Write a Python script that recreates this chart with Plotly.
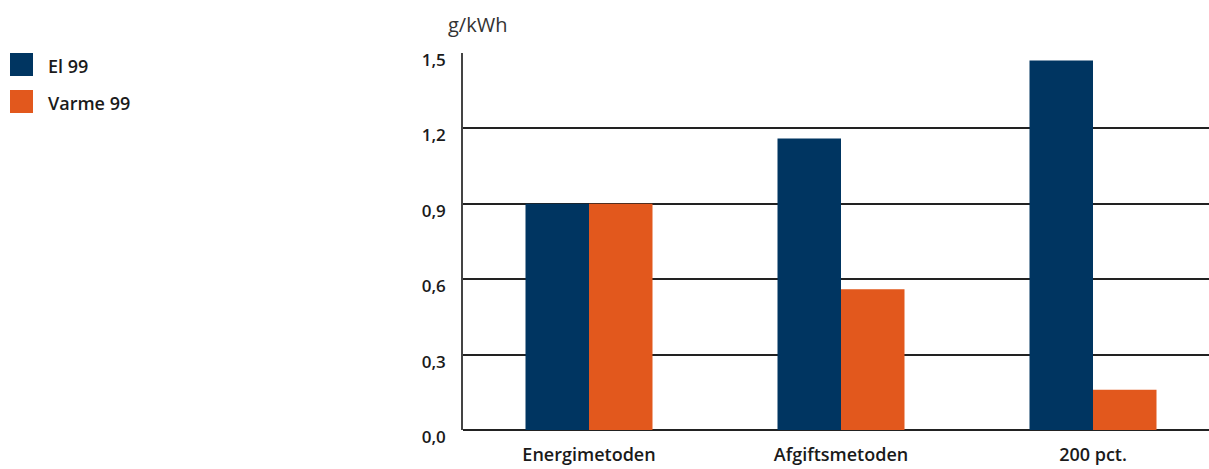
import plotly.graph_objects as go

# Data
categories = ["Energimetoden", "Afgiftsmetoden", "200 pct."]
el_99 = [0.90, 1.16, 1.47]
varme_99 = [0.90, 0.56, 0.16]
series_names = ["El 99", "Varme 99"]
y_ticks = [0.0, 0.3, 0.6, 0.9, 1.2, 1.5]
y_tick_labels = ["0,0", "0,3", "0,6", "0,9", "1,2", "1,5"]
unit_label = "g/kWh"

NAVY = "#003561"
ORANGE = "#E2581D"
TEXT = "#1a1a1a"
FONT = "Open Sans"

W, H = 1209, 469
ML, MR, MT, MB = 463, 0, 53, 39
PW = W - ML - MR
PH = H - MT - MB


def px_x(x):
    return (x - ML) / PW


def px_y(y):
    return (H - MB - y) / PH


fig = go.Figure()
fig.add_trace(go.Bar(x=categories, y=el_99, name=series_names[0],
                     marker=dict(color=NAVY, line=dict(width=0))))
fig.add_trace(go.Bar(x=categories, y=varme_99, name=series_names[1],
                     marker=dict(color=ORANGE, line=dict(width=0))))

shapes = []
annotations = []

# Custom legend at the far left
for i, (name, col) in enumerate(zip(series_names, [NAVY, ORANGE])):
    top = 53 + i * 37
    shapes.append(dict(type="rect", xref="paper", yref="paper",
                       x0=px_x(10), x1=px_x(33), y0=px_y(top + 23), y1=px_y(top),
                       fillcolor=col, line=dict(width=0)))
    annotations.append(dict(text=name, xref="paper", yref="paper",
                            x=px_x(46), y=px_y(top + 13), xanchor="left",
                            yanchor="middle", showarrow=False,
                            font=dict(family=FONT, size=18, color=TEXT, weight=600)))

# Unit label above the axis
annotations.append(dict(text=unit_label, xref="paper", yref="paper",
                        x=px_x(446), y=px_y(25), xanchor="left", yanchor="middle",
                        showarrow=False,
                        font=dict(family=FONT, size=20, color="#333333")))

fig.update_layout(
    width=W, height=H,
    margin=dict(l=ML, r=MR, t=MT, b=MB, pad=0),
    paper_bgcolor="white", plot_bgcolor="white",
    barmode="group", bargap=0.496, bargroupgap=0,
    showlegend=False,
    shapes=shapes, annotations=annotations,
    xaxis=dict(range=[-0.5, -0.5 + PW / 252], showgrid=False,
               showline=False, zeroline=False, ticks="",
               tickfont=dict(family=FONT, size=18, color=TEXT, weight=600),
               ticklabelstandoff=12),
    yaxis=dict(range=[0, 1.5], tickvals=y_ticks, ticktext=y_tick_labels,
               showgrid=True, gridcolor="#222222", gridwidth=1.5,
               zeroline=True, zerolinecolor="#222222", zerolinewidth=1.5,
               showline=True, linecolor="#444444", linewidth=1.5,
               ticks="", ticklabelstandoff=12, ticklabelshift=7,
               tickfont=dict(family=FONT, size=17, color=TEXT, weight=600)),
)

fig.write_html("out.html")
